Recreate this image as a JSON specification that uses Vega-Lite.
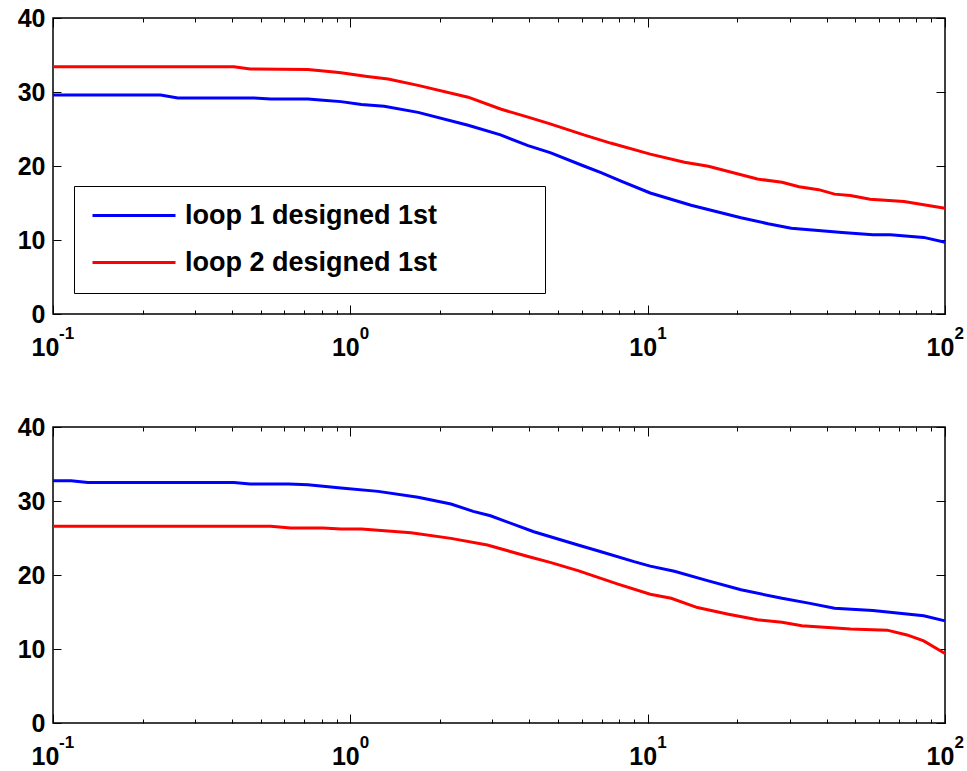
{
  "$schema": "https://vega.github.io/schema/vega-lite/v6.json",
  "background": "white",
  "autosize": {"type": "pad"},
  "padding": {"left": 16, "top": 5, "right": 2, "bottom": 2},
  "config": {
    "view": {"stroke": "black", "strokeWidth": 1.5},
    "font": "Liberation Sans",
    "axis": {
      "grid": false,
      "title": null,
      "domain": false,
      "tickColor": "black",
      "tickWidth": 1,
      "labelFont": "Liberation Sans",
      "labelFontWeight": "bold",
      "labelFontSize": 25,
      "labelColor": "black",
      "labelFlush": false,
      "labelOverlap": false,
      "labelBound": false
    },
    "line": {"strokeWidth": 3}
  },
  "datasets": {
    "top": [
      {"x": 0.1, "v": 29.6, "s": "loop 1 designed 1st"},
      {"x": 0.23, "v": 29.6, "s": "loop 1 designed 1st"},
      {"x": 0.263, "v": 29.2, "s": "loop 1 designed 1st"},
      {"x": 0.47, "v": 29.2, "s": "loop 1 designed 1st"},
      {"x": 0.54, "v": 29.05, "s": "loop 1 designed 1st"},
      {"x": 0.72, "v": 29.05, "s": "loop 1 designed 1st"},
      {"x": 0.81, "v": 28.9, "s": "loop 1 designed 1st"},
      {"x": 0.93, "v": 28.7, "s": "loop 1 designed 1st"},
      {"x": 1.09, "v": 28.3, "s": "loop 1 designed 1st"},
      {"x": 1.3, "v": 28.06, "s": "loop 1 designed 1st"},
      {"x": 1.69, "v": 27.25, "s": "loop 1 designed 1st"},
      {"x": 2.49, "v": 25.5, "s": "loop 1 designed 1st"},
      {"x": 3.2, "v": 24.2, "s": "loop 1 designed 1st"},
      {"x": 3.96, "v": 22.75, "s": "loop 1 designed 1st"},
      {"x": 4.7, "v": 21.8, "s": "loop 1 designed 1st"},
      {"x": 6.1, "v": 20.0, "s": "loop 1 designed 1st"},
      {"x": 6.97, "v": 19.1, "s": "loop 1 designed 1st"},
      {"x": 8.1, "v": 18.0, "s": "loop 1 designed 1st"},
      {"x": 10.2, "v": 16.35, "s": "loop 1 designed 1st"},
      {"x": 14.0, "v": 14.7, "s": "loop 1 designed 1st"},
      {"x": 20.6, "v": 13.0, "s": "loop 1 designed 1st"},
      {"x": 25.4, "v": 12.2, "s": "loop 1 designed 1st"},
      {"x": 30.4, "v": 11.6, "s": "loop 1 designed 1st"},
      {"x": 45.1, "v": 11.0, "s": "loop 1 designed 1st"},
      {"x": 57.2, "v": 10.7, "s": "loop 1 designed 1st"},
      {"x": 65.5, "v": 10.7, "s": "loop 1 designed 1st"},
      {"x": 84.8, "v": 10.35, "s": "loop 1 designed 1st"},
      {"x": 100, "v": 9.7, "s": "loop 1 designed 1st"},
      {"x": 0.1, "v": 33.42, "s": "loop 2 designed 1st"},
      {"x": 0.406, "v": 33.42, "s": "loop 2 designed 1st"},
      {"x": 0.46, "v": 33.1, "s": "loop 2 designed 1st"},
      {"x": 0.72, "v": 33.05, "s": "loop 2 designed 1st"},
      {"x": 0.88, "v": 32.7, "s": "loop 2 designed 1st"},
      {"x": 0.93, "v": 32.6, "s": "loop 2 designed 1st"},
      {"x": 1.14, "v": 32.1, "s": "loop 2 designed 1st"},
      {"x": 1.34, "v": 31.75, "s": "loop 2 designed 1st"},
      {"x": 1.69, "v": 30.9, "s": "loop 2 designed 1st"},
      {"x": 2.49, "v": 29.3, "s": "loop 2 designed 1st"},
      {"x": 3.2, "v": 27.7, "s": "loop 2 designed 1st"},
      {"x": 3.96, "v": 26.6, "s": "loop 2 designed 1st"},
      {"x": 4.7, "v": 25.7, "s": "loop 2 designed 1st"},
      {"x": 6.1, "v": 24.2, "s": "loop 2 designed 1st"},
      {"x": 7.5, "v": 23.1, "s": "loop 2 designed 1st"},
      {"x": 10.2, "v": 21.6, "s": "loop 2 designed 1st"},
      {"x": 13.3, "v": 20.5, "s": "loop 2 designed 1st"},
      {"x": 16.0, "v": 19.96, "s": "loop 2 designed 1st"},
      {"x": 23.4, "v": 18.24, "s": "loop 2 designed 1st"},
      {"x": 28.3, "v": 17.8, "s": "loop 2 designed 1st"},
      {"x": 32.3, "v": 17.2, "s": "loop 2 designed 1st"},
      {"x": 37.6, "v": 16.8, "s": "loop 2 designed 1st"},
      {"x": 42.5, "v": 16.2, "s": "loop 2 designed 1st"},
      {"x": 48.1, "v": 16.0, "s": "loop 2 designed 1st"},
      {"x": 56.0, "v": 15.5, "s": "loop 2 designed 1st"},
      {"x": 72.8, "v": 15.2, "s": "loop 2 designed 1st"},
      {"x": 100, "v": 14.3, "s": "loop 2 designed 1st"}
    ],
    "bottom": [
      {"x": 0.1, "v": 32.75, "s": "loop 1 designed 1st"},
      {"x": 0.115, "v": 32.75, "s": "loop 1 designed 1st"},
      {"x": 0.131, "v": 32.5, "s": "loop 1 designed 1st"},
      {"x": 0.406, "v": 32.5, "s": "loop 1 designed 1st"},
      {"x": 0.46, "v": 32.3, "s": "loop 1 designed 1st"},
      {"x": 0.62, "v": 32.3, "s": "loop 1 designed 1st"},
      {"x": 0.72, "v": 32.2, "s": "loop 1 designed 1st"},
      {"x": 0.93, "v": 31.75, "s": "loop 1 designed 1st"},
      {"x": 1.24, "v": 31.3, "s": "loop 1 designed 1st"},
      {"x": 1.69, "v": 30.5, "s": "loop 1 designed 1st"},
      {"x": 2.18, "v": 29.6, "s": "loop 1 designed 1st"},
      {"x": 2.59, "v": 28.6, "s": "loop 1 designed 1st"},
      {"x": 2.96, "v": 28.0, "s": "loop 1 designed 1st"},
      {"x": 4.14, "v": 25.85, "s": "loop 1 designed 1st"},
      {"x": 5.83, "v": 24.05, "s": "loop 1 designed 1st"},
      {"x": 6.97, "v": 23.15, "s": "loop 1 designed 1st"},
      {"x": 9.0, "v": 21.8, "s": "loop 1 designed 1st"},
      {"x": 10.2, "v": 21.2, "s": "loop 1 designed 1st"},
      {"x": 12.3, "v": 20.5, "s": "loop 1 designed 1st"},
      {"x": 16.0, "v": 19.2, "s": "loop 1 designed 1st"},
      {"x": 20.6, "v": 18.0, "s": "loop 1 designed 1st"},
      {"x": 28.3, "v": 16.85, "s": "loop 1 designed 1st"},
      {"x": 34.8, "v": 16.2, "s": "loop 1 designed 1st"},
      {"x": 42.5, "v": 15.5, "s": "loop 1 designed 1st"},
      {"x": 57.2, "v": 15.2, "s": "loop 1 designed 1st"},
      {"x": 84.8, "v": 14.5, "s": "loop 1 designed 1st"},
      {"x": 100, "v": 13.8, "s": "loop 1 designed 1st"},
      {"x": 0.1, "v": 26.6, "s": "loop 2 designed 1st"},
      {"x": 0.54, "v": 26.6, "s": "loop 2 designed 1st"},
      {"x": 0.63, "v": 26.35, "s": "loop 2 designed 1st"},
      {"x": 0.81, "v": 26.35, "s": "loop 2 designed 1st"},
      {"x": 0.93, "v": 26.2, "s": "loop 2 designed 1st"},
      {"x": 1.09, "v": 26.2, "s": "loop 2 designed 1st"},
      {"x": 1.6, "v": 25.7, "s": "loop 2 designed 1st"},
      {"x": 2.18, "v": 24.95, "s": "loop 2 designed 1st"},
      {"x": 2.89, "v": 24.05, "s": "loop 2 designed 1st"},
      {"x": 3.96, "v": 22.5, "s": "loop 2 designed 1st"},
      {"x": 4.7, "v": 21.7, "s": "loop 2 designed 1st"},
      {"x": 5.83, "v": 20.6, "s": "loop 2 designed 1st"},
      {"x": 7.9, "v": 18.8, "s": "loop 2 designed 1st"},
      {"x": 10.2, "v": 17.4, "s": "loop 2 designed 1st"},
      {"x": 12.0, "v": 16.85, "s": "loop 2 designed 1st"},
      {"x": 14.7, "v": 15.6, "s": "loop 2 designed 1st"},
      {"x": 18.7, "v": 14.7, "s": "loop 2 designed 1st"},
      {"x": 23.4, "v": 13.95, "s": "loop 2 designed 1st"},
      {"x": 28.3, "v": 13.6, "s": "loop 2 designed 1st"},
      {"x": 33.0, "v": 13.15, "s": "loop 2 designed 1st"},
      {"x": 48.1, "v": 12.7, "s": "loop 2 designed 1st"},
      {"x": 63.9, "v": 12.55, "s": "loop 2 designed 1st"},
      {"x": 74.5, "v": 11.9, "s": "loop 2 designed 1st"},
      {"x": 84.8, "v": 11.1, "s": "loop 2 designed 1st"},
      {"x": 100, "v": 9.4, "s": "loop 2 designed 1st"}
    ],
    "exps": [
      {"x": 0.1, "e": "-1"},
      {"x": 1, "e": "0"},
      {"x": 10, "e": "1"},
      {"x": 100, "e": "2"}
    ]
  },
  "spacing": 113,
  "bounds": "flush",
  "resolve": {"scale": {"color": "independent"}, "legend": {"color": "independent"}},
  "vconcat": [
    {
      "width": 892,
      "height": 296,
      "resolve": {"axis": {"x": "independent", "y": "independent"}},
      "layer": [
        {
          "data": {"name": "top"},
          "mark": {"type": "line", "strokeWidth": 3},
          "encoding": {
            "x": {"field": "x", "type": "quantitative",
              "scale": {"type": "log", "domain": [0.1, 100], "nice": false},
              "axis": {"orient": "bottom", "values": [0.1, 1, 10, 100], "ticks": false, "tickSize": 0,
                "labelExpr": "'10'", "labelPadding": 21, "labelBaseline": "top", "labelAlign": "center",
                "labelOffset": {"condition": {"test": "datum.value < 0.5", "value": -8}, "value": -5}}},
            "y": {"field": "v", "type": "quantitative",
              "scale": {"domain": [0, 40], "nice": false, "zero": false},
              "axis": {"orient": "left", "values": [0, 10, 20, 30, 40], "ticks": false, "tickSize": 0, "labelPadding": 8}},
            "color": {"field": "s", "type": "nominal",
              "scale": {"domain": ["loop 1 designed 1st", "loop 2 designed 1st"], "range": ["#0000ff", "#ff0000"]},
              "legend": {"orient": "none", "legendX": 21, "legendY": 168, "title": null,
                "symbolType": "stroke", "symbolSize": 6889, "symbolStrokeWidth": 3,
                "labelFont": "Liberation Sans", "labelFontWeight": "bold", "labelFontSize": 27, "labelColor": "black",
                "labelLimit": 800, "labelOffset": 8, "padding": 17, "rowPadding": 19, "clipHeight": 25,
                "strokeColor": "black", "fillColor": "white",
                "labelExpr": "datum.label + '\u00a0\u00a0\u00a0\u00a0\u00a0\u00a0\u00a0\u00a0\u00a0\u00a0\u00a0\u00a0\u200b'"}}
          }
        },
        {
          "data": {"name": "top"},
          "mark": {"type": "line", "opacity": 0},
          "encoding": {
            "x": {"field": "x", "type": "quantitative",
              "axis": {"orient": "bottom", "values": [0.1, 1, 10, 100], "labels": false, "tickSize": 9, "offset": -9}},
            "y": {"field": "v", "type": "quantitative",
              "axis": {"orient": "left", "values": [0, 10, 20, 30, 40], "labels": false, "tickSize": 8, "offset": -8}},
            "detail": {"field": "s"}
          }
        },
        {
          "data": {"name": "top"},
          "mark": {"type": "line", "opacity": 0},
          "encoding": {
            "x": {"field": "x", "type": "quantitative",
              "axis": {"orient": "top", "values": [0.1, 1, 10, 100], "labels": false, "tickSize": 9, "offset": -9}},
            "y": {"field": "v", "type": "quantitative",
              "axis": {"orient": "right", "values": [0, 10, 20, 30, 40], "labels": false, "tickSize": 9, "offset": -9}},
            "detail": {"field": "s"}
          }
        },
        {
          "data": {"name": "top"},
          "mark": {"type": "line", "opacity": 0},
          "encoding": {
            "x": {"field": "x", "type": "quantitative",
              "axis": {"orient": "bottom", "values": [0.2,0.3,0.4,0.5,0.6,0.7,0.8,0.9,2,3,4,5,6,7,8,9,20,30,40,50,60,70,80,90], "labels": false, "tickSize": 4, "offset": -4}},
            "y": {"field": "v", "type": "quantitative", "axis": null},
            "detail": {"field": "s"}
          }
        },
        {
          "data": {"name": "top"},
          "mark": {"type": "line", "opacity": 0},
          "encoding": {
            "x": {"field": "x", "type": "quantitative",
              "axis": {"orient": "top", "values": [0.2,0.3,0.4,0.5,0.6,0.7,0.8,0.9,2,3,4,5,6,7,8,9,20,30,40,50,60,70,80,90], "labels": false, "tickSize": 4, "offset": -4}},
            "y": {"field": "v", "type": "quantitative", "axis": null},
            "detail": {"field": "s"}
          }
        },
        {
          "data": {"name": "exps"},
          "transform": [{"filter": "datum.x < 0.5"}],
          "mark": {"type": "text", "align": "left", "baseline": "alphabetic", "dx": 6, "dy": 25,
            "font": "Liberation Sans", "fontWeight": "bold", "fontSize": 17, "color": "black"},
          "encoding": {
            "x": {"field": "x", "type": "quantitative", "axis": null},
            "y": {"datum": 0, "type": "quantitative", "axis": null},
            "text": {"field": "e"}
          }
        },
        {
          "data": {"name": "exps"},
          "transform": [{"filter": "datum.x > 0.5"}],
          "mark": {"type": "text", "align": "left", "baseline": "alphabetic", "dx": 9.5, "dy": 25,
            "font": "Liberation Sans", "fontWeight": "bold", "fontSize": 17, "color": "black"},
          "encoding": {
            "x": {"field": "x", "type": "quantitative", "axis": null},
            "y": {"datum": 0, "type": "quantitative", "axis": null},
            "text": {"field": "e"}
          }
        }
      ]
    },
    {
      "width": 892,
      "height": 296,
      "resolve": {"axis": {"x": "independent", "y": "independent"}},
      "layer": [
        {
          "data": {"name": "bottom"},
          "mark": {"type": "line", "strokeWidth": 3},
          "encoding": {
            "x": {"field": "x", "type": "quantitative",
              "scale": {"type": "log", "domain": [0.1, 100], "nice": false},
              "axis": {"orient": "bottom", "values": [0.1, 1, 10, 100], "ticks": false, "tickSize": 0,
                "labelExpr": "'10'", "labelPadding": 21, "labelBaseline": "top", "labelAlign": "center",
                "labelOffset": {"condition": {"test": "datum.value < 0.5", "value": -8}, "value": -5}}},
            "y": {"field": "v", "type": "quantitative",
              "scale": {"domain": [0, 40], "nice": false, "zero": false},
              "axis": {"orient": "left", "values": [0, 10, 20, 30, 40], "ticks": false, "tickSize": 0, "labelPadding": 8}},
            "color": {"field": "s", "type": "nominal",
              "scale": {"domain": ["loop 1 designed 1st", "loop 2 designed 1st"], "range": ["#0000ff", "#ff0000"]},
              "legend": null}
          }
        },
        {
          "data": {"name": "bottom"},
          "mark": {"type": "line", "opacity": 0},
          "encoding": {
            "x": {"field": "x", "type": "quantitative",
              "axis": {"orient": "bottom", "values": [0.1, 1, 10, 100], "labels": false, "tickSize": 9, "offset": -9}},
            "y": {"field": "v", "type": "quantitative",
              "axis": {"orient": "left", "values": [0, 10, 20, 30, 40], "labels": false, "tickSize": 8, "offset": -8}},
            "detail": {"field": "s"}
          }
        },
        {
          "data": {"name": "bottom"},
          "mark": {"type": "line", "opacity": 0},
          "encoding": {
            "x": {"field": "x", "type": "quantitative",
              "axis": {"orient": "top", "values": [0.1, 1, 10, 100], "labels": false, "tickSize": 9, "offset": -9}},
            "y": {"field": "v", "type": "quantitative",
              "axis": {"orient": "right", "values": [0, 10, 20, 30, 40], "labels": false, "tickSize": 9, "offset": -9}},
            "detail": {"field": "s"}
          }
        },
        {
          "data": {"name": "bottom"},
          "mark": {"type": "line", "opacity": 0},
          "encoding": {
            "x": {"field": "x", "type": "quantitative",
              "axis": {"orient": "bottom", "values": [0.2,0.3,0.4,0.5,0.6,0.7,0.8,0.9,2,3,4,5,6,7,8,9,20,30,40,50,60,70,80,90], "labels": false, "tickSize": 4, "offset": -4}},
            "y": {"field": "v", "type": "quantitative", "axis": null},
            "detail": {"field": "s"}
          }
        },
        {
          "data": {"name": "bottom"},
          "mark": {"type": "line", "opacity": 0},
          "encoding": {
            "x": {"field": "x", "type": "quantitative",
              "axis": {"orient": "top", "values": [0.2,0.3,0.4,0.5,0.6,0.7,0.8,0.9,2,3,4,5,6,7,8,9,20,30,40,50,60,70,80,90], "labels": false, "tickSize": 4, "offset": -4}},
            "y": {"field": "v", "type": "quantitative", "axis": null},
            "detail": {"field": "s"}
          }
        },
        {
          "data": {"name": "exps"},
          "transform": [{"filter": "datum.x < 0.5"}],
          "mark": {"type": "text", "align": "left", "baseline": "alphabetic", "dx": 6, "dy": 25,
            "font": "Liberation Sans", "fontWeight": "bold", "fontSize": 17, "color": "black"},
          "encoding": {
            "x": {"field": "x", "type": "quantitative", "axis": null},
            "y": {"datum": 0, "type": "quantitative", "axis": null},
            "text": {"field": "e"}
          }
        },
        {
          "data": {"name": "exps"},
          "transform": [{"filter": "datum.x > 0.5"}],
          "mark": {"type": "text", "align": "left", "baseline": "alphabetic", "dx": 9.5, "dy": 25,
            "font": "Liberation Sans", "fontWeight": "bold", "fontSize": 17, "color": "black"},
          "encoding": {
            "x": {"field": "x", "type": "quantitative", "axis": null},
            "y": {"datum": 0, "type": "quantitative", "axis": null},
            "text": {"field": "e"}
          }
        }
      ]
    }
  ]
}
